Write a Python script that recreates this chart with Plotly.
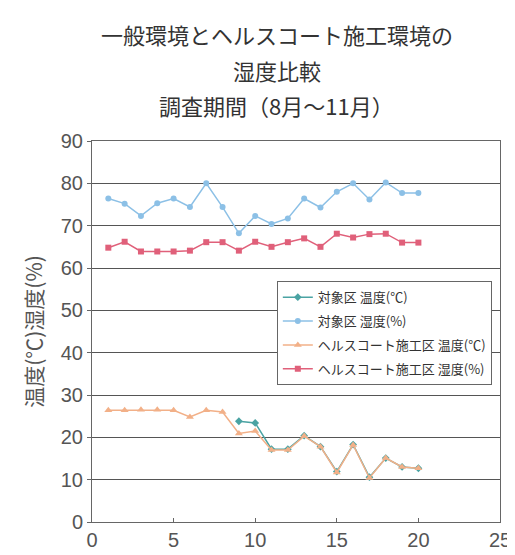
import plotly.graph_objects as go

days = list(range(1, 21))
taisho_temp = [None, None, None, None, None, None, None, None,
               23.8, 23.4, 17.2, 17.2, 20.4, 17.8, 11.9, 18.3, 10.6, 15.1, 13.0, 12.7]
taisho_humid = [76.4, 75.2, 72.3, 75.3, 76.4, 74.4, 80.0, 74.4, 68.2, 72.3,
                70.4, 71.7, 76.4, 74.3, 78.0, 80.0, 76.2, 80.2, 77.7, 77.7]
health_temp = [26.4, 26.4, 26.5, 26.5, 26.4, 24.8, 26.4, 26.0, 20.9, 21.5,
               17.0, 17.0, 20.3, 17.8, 11.7, 18.2, 10.4, 15.1, 13.0, 12.7]
health_humid = [64.8, 66.2, 63.9, 63.9, 63.9, 64.1, 66.1, 66.1, 64.1, 66.2,
                65.0, 66.1, 67.0, 65.0, 68.1, 67.2, 68.0, 68.1, 66.0, 66.0]
names = ["対象区 温度(℃)", "対象区 湿度(%)", "ヘルスコート施工区 温度(℃)", "ヘルスコート施工区 湿度(%)"]
title_lines = ["一般環境とヘルスコート施工環境の", "湿度比較", "調査期間（8月～11月）"]

font = "Noto Sans CJK JP"
fig = go.Figure()
fig.add_trace(go.Scatter(x=days, y=taisho_temp, name=names[0], mode="lines+markers",
                         legendgroup="a",
                         line=dict(color="#4aa3a3", width=1.5),
                         marker=dict(symbol="diamond", size=6, color="#4aa3a3")))
fig.add_trace(go.Scatter(x=days, y=taisho_humid, name=names[1], mode="lines+markers",
                         legendgroup="b",
                         line=dict(color="#8cc0e6", width=1.5),
                         marker=dict(symbol="circle", size=6, color="#8cc0e6")))
fig.add_trace(go.Scatter(x=days, y=health_temp, name=names[2], mode="lines+markers",
                         legendgroup="c",
                         line=dict(color="#f2b088", width=1.5),
                         marker=dict(symbol="triangle-up", size=7, color="#f2b088")))
fig.add_trace(go.Scatter(x=days, y=health_humid, name=names[3], mode="lines+markers",
                         legendgroup="d",
                         line=dict(color="#e0607a", width=1.5),
                         marker=dict(symbol="square", size=6, color="#e0607a")))

for text, py in zip(title_lines, [25, 62, 97]):
    fig.add_annotation(text=text, xref="paper", yref="paper",
                       x=0.453, y=(516 - py) / 383, xanchor="center", yanchor="middle",
                       showarrow=False, font=dict(size=22, color="#333", family=font))

fig.update_layout(
    width=515, height=555,
    paper_bgcolor="white", plot_bgcolor="white",
    margin=dict(l=84, r=16, t=133, b=39),
    font=dict(family=font, color="#444"),
    showlegend=True,
    legend=dict(x=0.453, y=0.632, xanchor="left", yanchor="top",
                bgcolor="white", bordercolor="#666", borderwidth=1,
                font=dict(size=13, color="#333", family=font),
                tracegroupgap=4, itemwidth=30),
    xaxis=dict(range=[0, 25], tickvals=[0, 5, 10, 15, 20, 25], showgrid=False,
               showline=True, linecolor="#666", linewidth=1, mirror=True,
               ticks="inside", ticklen=4, tickcolor="#666",
               tickfont=dict(size=20, color="#555", family="Liberation Sans"), zeroline=False),
    yaxis=dict(range=[0, 90], tickvals=list(range(0, 91, 10)), showgrid=True,
               gridcolor="#555", gridwidth=1,
               showline=True, linecolor="#666", linewidth=1, mirror=True,
               ticks="outside", ticklen=4, tickcolor="#666",
               tickfont=dict(size=20, color="#555", family="Liberation Sans"), zeroline=False,
               title=dict(text="温度(℃)湿度(%)", font=dict(size=21, color="#555", family=font),
                          standoff=12)),
)

fig.write_html("out.html")
